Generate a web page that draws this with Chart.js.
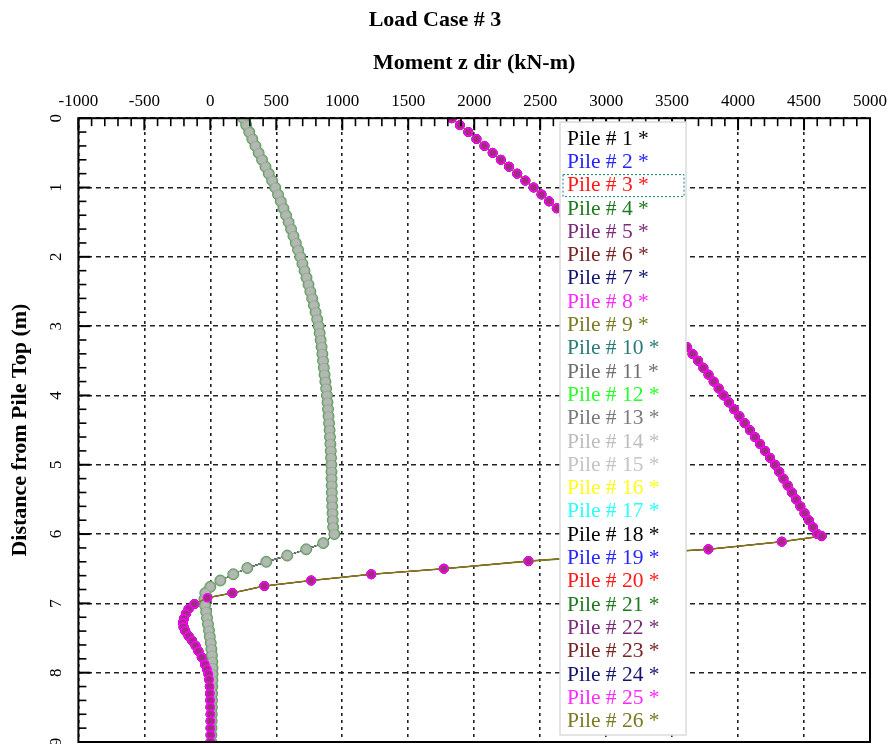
<!DOCTYPE html>
<html>
<head>
<meta charset="utf-8">
<script src="https://cdn.jsdelivr.net/npm/chart.js@4.4.1/dist/chart.umd.min.js"></script>
<style>
  html, body { margin: 0; padding: 0; background: #fff; }
  #wrap { width: 893px; height: 744px; }
</style>
</head>
<body>
<div id="wrap"><canvas id="chart" width="893" height="744"></canvas></div>
<script>
const FONT = "'Liberation Serif', 'Times New Roman', serif";

// Leyenda: una entrada por pilote
const pileLabels = [
    "Pile # 1 *", "Pile # 2 *", "Pile # 3 *", "Pile # 4 *", "Pile # 5 *",
    "Pile # 6 *", "Pile # 7 *", "Pile # 8 *", "Pile # 9 *", "Pile # 10 *",
    "Pile # 11 *", "Pile # 12 *", "Pile # 13 *", "Pile # 14 *", "Pile # 15 *",
    "Pile # 16 *", "Pile # 17 *", "Pile # 18 *", "Pile # 19 *", "Pile # 20 *",
    "Pile # 21 *", "Pile # 22 *", "Pile # 23 *", "Pile # 24 *", "Pile # 25 *",
    "Pile # 26 *"
];
const pileColors = [
    "#000000", "#2626ff", "#ff1a1a", "#1f7a1f", "#7a2a7a",
    "#7a2424", "#14146e", "#ff2aff", "#7a7a22", "#2a7a7a",
    "#6e6e6e", "#2aff2a", "#7a7a7a", "#bdbdbd", "#c4c4c4",
    "#ffff1a", "#2affff", "#000000", "#2626ff", "#ff1a1a",
    "#1f7a1f", "#7a2a7a", "#7a2424", "#14146e", "#ff2aff",
    "#7a7a22"
];
// pilotes que siguen la curva de momento grande
const groupB = [5, 8, 9, 22, 25, 26];

// Curva A (m, kN-m)
const depthA = [
    0.0, 0.1, 0.2, 0.3, 0.4, 0.5, 0.6, 0.7, 0.8, 0.9,
    1.0, 1.1, 1.2, 1.3, 1.4, 1.5, 1.6, 1.7, 1.8, 1.9,
    2.0, 2.1, 2.2, 2.3, 2.4, 2.5, 2.6, 2.7, 2.8, 2.9,
    3.0, 3.1, 3.2, 3.3, 3.4, 3.5, 3.6, 3.7, 3.8, 3.9,
    4.0, 4.1, 4.2, 4.3, 4.4, 4.5, 4.6, 4.7, 4.8, 4.9,
    5.0, 5.1, 5.2, 5.3, 5.4, 5.5, 5.6, 5.7, 5.8, 5.9,
    6.0, 6.13, 6.22, 6.31, 6.40, 6.49, 6.58, 6.67, 6.76, 6.85,
    6.94, 7.03, 7.12, 7.21, 7.30, 7.39, 7.48, 7.57, 7.66, 7.75,
    7.84, 7.93, 8.02, 8.11, 8.2, 8.3, 8.4, 8.5, 8.6, 8.7,
    8.8, 8.9, 9.0
];
const momentA = [
    250, 272, 295, 318, 342, 366, 392, 418, 443, 468,
    492, 513, 534, 554, 574, 593, 612, 630, 648, 665,
    682, 698, 714, 729, 744, 758, 772, 785, 798, 810,
    821, 829, 836, 843, 849, 854, 860, 866, 872, 878,
    884, 888, 892, 896, 900, 904, 907, 910, 913, 915,
    917, 918, 919, 920, 921, 922, 924, 926, 928, 931,
    940, 856, 727, 583, 424, 280, 174, 76, 0, -38,
    -45, -40, -32, -25, -18, -10, -4, 3, 8, 12,
    15, 17, 17, 16, 15, 14, 13, 12, 11, 10,
    9, 8, 7
];

// Curva B (m, kN-m)
const depthB = [
    0.0, 0.1, 0.2, 0.3, 0.4, 0.5, 0.6, 0.7, 0.8, 0.9,
    1.0, 1.1, 1.2, 1.3, 1.4, 1.5, 1.6, 1.7, 1.8, 1.9,
    2.0, 2.1, 2.2, 2.3, 2.4, 2.5, 2.6, 2.7, 2.8, 2.9,
    3.0, 3.1, 3.2, 3.3, 3.4, 3.5, 3.6, 3.7, 3.8, 3.9,
    4.0, 4.1, 4.2, 4.3, 4.4, 4.5, 4.6, 4.7, 4.8, 4.9,
    5.0, 5.1, 5.2, 5.3, 5.4, 5.5, 5.6, 5.7, 5.8, 5.9,
    6.0, 6.03, 6.11, 6.22, 6.30, 6.39, 6.50, 6.58, 6.67, 6.75,
    6.85, 6.92, 7.01, 7.08, 7.15, 7.22, 7.28, 7.34, 7.40, 7.47,
    7.54, 7.61, 7.69, 7.78, 7.88, 7.95, 8.02, 8.1, 8.2, 8.3,
    8.4, 8.5, 8.6, 8.7, 8.8, 8.9, 9.0
];
const momentB = [
    1830, 1892, 1955, 2017, 2078, 2140, 2202, 2264, 2326, 2388,
    2450, 2510, 2568, 2626, 2684, 2740, 2794, 2846, 2898, 2950,
    3000, 3050, 3100, 3150, 3200, 3250, 3297, 3343, 3389, 3435,
    3480, 3524, 3568, 3612, 3655, 3697, 3737, 3776, 3815, 3853,
    3890, 3930, 3970, 4010, 4050, 4090, 4128, 4166, 4204, 4242,
    4280, 4312, 4344, 4376, 4408, 4440, 4472, 4504, 4536, 4568,
    4600, 4634, 4331, 3775, 3090, 2411, 1770, 1220, 765, 409,
    167, -23, -121, -165, -185, -200, -208, -203, -190, -165,
    -138, -112, -90, -65, -40, -25, -14, -8, -4, -2,
    0, 1, 2, 2, 2, 2, 2
];

const yTickValues = [0, 1, 2, 3, 4, 5, 6, 7, 8, 9];

const datasets = pileLabels.map((label, i) => {
    const pile = i + 1;
    const onB = groupB.includes(pile);
    const depth = onB ? depthB : depthA;
    const moment = onB ? momentB : momentA;
    const ds = {
        label,
        data: depth.map((d, k) => ({ x: moment[k], y: d })),
        showLine: true,
        borderColor: pileColors[i],
        borderWidth: 1,
        pointRadius: 4.5,
        pointBackgroundColor: pileColors[i],
        pointBorderColor: pileColors[i],
        order: 6
    };
    if (pile === 25) {
        Object.assign(ds, { order: 0, showLine: false, pointRadius: 4,
            pointBorderWidth: 1.5, pointBorderColor: "#ff00ff", pointBackgroundColor: "#a02c80" });
    }
    if (pile === 26) {
        Object.assign(ds, { order: 1, borderColor: "#7c7c10", borderWidth: 1.6, pointRadius: 0 });
    }
    if (pile === 14) {
        Object.assign(ds, { order: 3, borderColor: "#999999", pointRadius: 4.5,
            pointBackgroundColor: "#b4b8b2", pointBorderColor: "#8fae8f" });
    }
    if (pile === 4) {
        Object.assign(ds, { order: 4, pointRadius: 5.5,
            pointBackgroundColor: "#7aa87a", pointBorderColor: "#5f9f5f" });
    }
    return ds;
});

// marco, marcas interiores, etiquetas del eje y y leyenda
const pileDecor = {
    id: "pileDecor",
    afterDraw(chart) {
        const { ctx, chartArea: a, scales } = chart;
        const xs = scales.x, ys = scales.y;
        ctx.save();

        ctx.strokeStyle = "#000";
        ctx.lineWidth = 2;
        ctx.strokeRect(a.left, a.top, a.right - a.left, a.bottom - a.top);

        for (let v = -1000; v <= 5000; v += 100) {
            const px = xs.getPixelForValue(v);
            const major = v % 500 === 0;
            ctx.lineWidth = major ? 2 : 1.6;
            ctx.beginPath();
            ctx.moveTo(px, a.top);
            ctx.lineTo(px, a.top + (major ? 12 : 8));
            ctx.stroke();
        }
        for (let k = 0; k <= 45; k++) {
            const v = k / 5;
            const py = ys.getPixelForValue(v);
            const major = k % 5 === 0;
            ctx.lineWidth = major ? 2 : 1.6;
            ctx.beginPath();
            ctx.moveTo(a.left, py);
            ctx.lineTo(a.left + (major ? 12 : 8), py);
            ctx.stroke();
        }

        ctx.fillStyle = "#000";
        ctx.font = "17px " + FONT;
        ctx.textAlign = "center";
        ctx.textBaseline = "middle";
        yTickValues.forEach(v => {
            ctx.save();
            ctx.translate(57, ys.getPixelForValue(v));
            ctx.rotate(-Math.PI / 2);
            ctx.fillText(String(v), 0, 0);
            ctx.restore();
        });

        // leyenda
        const lx = 560, ly = 122, lw = 126, lh = 613, step = 23.3;
        ctx.fillStyle = "#fff";
        ctx.fillRect(lx, ly, lw, lh);
        ctx.strokeStyle = "#dcdcdc";
        ctx.lineWidth = 1.5;
        ctx.strokeRect(lx, ly, lw, lh);
        ctx.font = "21.5px " + FONT;
        ctx.textAlign = "left";
        chart.data.datasets.forEach((ds, i) => {
            ctx.fillStyle = pileColors[i];
            ctx.fillText(ds.label, lx + 7, ly + 17 + i * step);
        });
        ctx.strokeStyle = "#108080";
        ctx.lineWidth = 1;
        ctx.setLineDash([2, 2]);
        ctx.strokeRect(lx + 3, ly + 17 + 2 * step - 11, lw - 5, 22);
        ctx.restore();
    }
};

new Chart(document.getElementById("chart"), {
    type: "scatter",
    data: { datasets },
    plugins: [pileDecor],
    options: {
        responsive: false,
        animation: false,
        devicePixelRatio: 1,
        layout: { autoPadding: false, padding: { left: 0, right: 23, top: 2, bottom: 2 } },
        plugins: {
            legend: { display: false },
            tooltip: { enabled: false },
            title: {
                display: true,
                text: "Load Case # 3",
                color: "#000",
                font: { family: FONT, size: 22, weight: "bold" },
                padding: { top: 5, bottom: 6 }
            }
        },
        scales: {
            x: {
                type: "linear",
                position: "top",
                min: -1000,
                max: 5000,
                ticks: {
                    stepSize: 500, color: "#000", font: { family: FONT, size: 17 },
                    padding: 6, maxRotation: 0, autoSkip: false,
                    callback: v => String(v)
                },
                grid: { color: "#222", lineWidth: 1.6, drawTicks: false },
                border: { display: false, dash: [3, 4] },
                title: {
                    display: true,
                    text: "Moment z dir (kN-m)",
                    color: "#000",
                    font: { family: FONT, size: 22, weight: "bold" },
                    padding: { top: 11, bottom: 9 }
                }
            },
            y: {
                type: "linear",
                reverse: true,
                min: 0,
                max: 9,
                ticks: { stepSize: 1, display: false },
                grid: { color: "#222", lineWidth: 1.6, drawTicks: false },
                border: { display: false, dash: [5, 4] },
                title: {
                    display: true,
                    text: "Distance from Pile Top (m)",
                    color: "#000",
                    font: { family: FONT, size: 22, weight: "bold" },
                    padding: { top: 7, bottom: 45 }
                }
            }
        }
    }
});
</script>
</body>
</html>
